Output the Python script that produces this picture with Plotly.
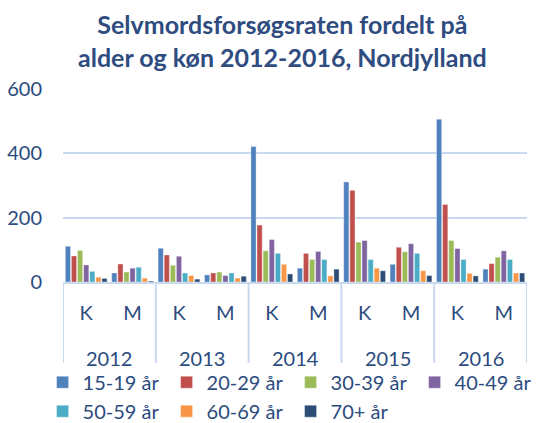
import plotly.graph_objects as go

years = ["2012", "2013", "2014", "2015", "2016"]
sexes = ["K", "M"]
age_groups = ["15-19 år", "20-29 år", "30-39 år", "40-49 år", "50-59 år", "60-69 år", "70+ år"]

# Rates per age group, ordered 2012 K, 2012 M, 2013 K, 2013 M, ... 2016 M
rate_15_19 = [111, 28, 105, 22, 421, 43, 311, 55, 506, 40]
rate_20_29 = [81, 56, 84, 28, 177, 89, 285, 108, 241, 57]
rate_30_39 = [98, 31, 52, 31, 97, 70, 124, 94, 129, 77]
rate_40_49 = [53, 43, 80, 20, 132, 95, 129, 119, 104, 97]
rate_50_59 = [33, 46, 28, 28, 89, 70, 70, 89, 70, 70]
rate_60_69 = [15, 12, 20, 12, 55, 19, 43, 35, 27, 28]
rate_70p = [11, 3, 9, 18, 25, 40, 35, 20, 19, 28]

series = [rate_15_19, rate_20_29, rate_30_39, rate_40_49, rate_50_59, rate_60_69, rate_70p]
colors = ["#4F81BD", "#C0504D", "#9BBB59", "#8064A2", "#4BACC6", "#F79646", "#2C4D75"]

# one category per (year, sex) pair; the tick shows the sex, the year sits below
categories = [f"{y} {s}" for y in years for s in sexes]
sex_labels = [s for _ in years for s in sexes]

text_color = "#2B4B7E"
grid_color = "#C9DAF0"
font_family = "Lato"

fig = go.Figure()
for name, vals, col in zip(age_groups, series, colors):
    fig.add_trace(go.Bar(
        x=categories, y=vals, name=name,
        marker=dict(color=col, line=dict(color="rgba(255,255,255,0.6)", width=0.6)),
    ))

# year dividers and year labels under the K/M ticks
for i, yr in enumerate(years):
    fig.add_shape(type="line", xref="x", yref="paper",
                  x0=2 * i - 0.5, x1=2 * i - 0.5, y0=0, y1=-0.47,
                  line=dict(color=grid_color, width=2))
    fig.add_annotation(x=2 * i + 0.5, xref="x", y=-0.394, yref="paper",
                       text=yr, showarrow=False, yanchor="middle",
                       font=dict(size=20, color=text_color, family=font_family))
fig.add_shape(type="line", xref="x", yref="paper",
              x0=len(categories) - 0.5, x1=len(categories) - 0.5, y0=0, y1=-0.47,
              line=dict(color=grid_color, width=2))

fig.add_annotation(
    text="<b>Selvmordsforsøgsraten fordelt på<br>alder og køn 2012-2016, Nordjylland</b>",
    xref="paper", yref="paper", x=0.474, y=1.425, xanchor="center", yanchor="top",
    showarrow=False, font=dict(size=25, color="#2E4C80", family=font_family),
)

fig.update_layout(
    width=537, height=423,
    margin=dict(l=63, r=10, t=89, b=141, autoexpand=False),
    paper_bgcolor="white", plot_bgcolor="white",
    font=dict(family=font_family, color=text_color),
    barmode="group", bargap=0.08, bargroupgap=0.15,
    xaxis=dict(
        type="category", tickvals=categories, ticktext=sex_labels,
        range=[-0.5, len(categories) - 0.5],
        showgrid=False, showline=True, linecolor=grid_color, linewidth=2,
        ticks="", ticklabelstandoff=12,
        tickfont=dict(size=20, color=text_color),
    ),
    yaxis=dict(
        range=[0, 600], tickvals=[0, 200, 400, 600],
        showgrid=True, gridcolor=grid_color, gridwidth=2,
        zeroline=False, showline=False,
        tickfont=dict(size=20, color=text_color),
        ticklabelstandoff=20,
    ),
    legend=dict(
        orientation="h", x=-0.044, xanchor="left", y=-0.418, yanchor="top",
        entrywidth=79, font=dict(size=20, color=text_color),
        itemwidth=30, tracegroupgap=0,
    ),
)

fig.write_html("out.html")
